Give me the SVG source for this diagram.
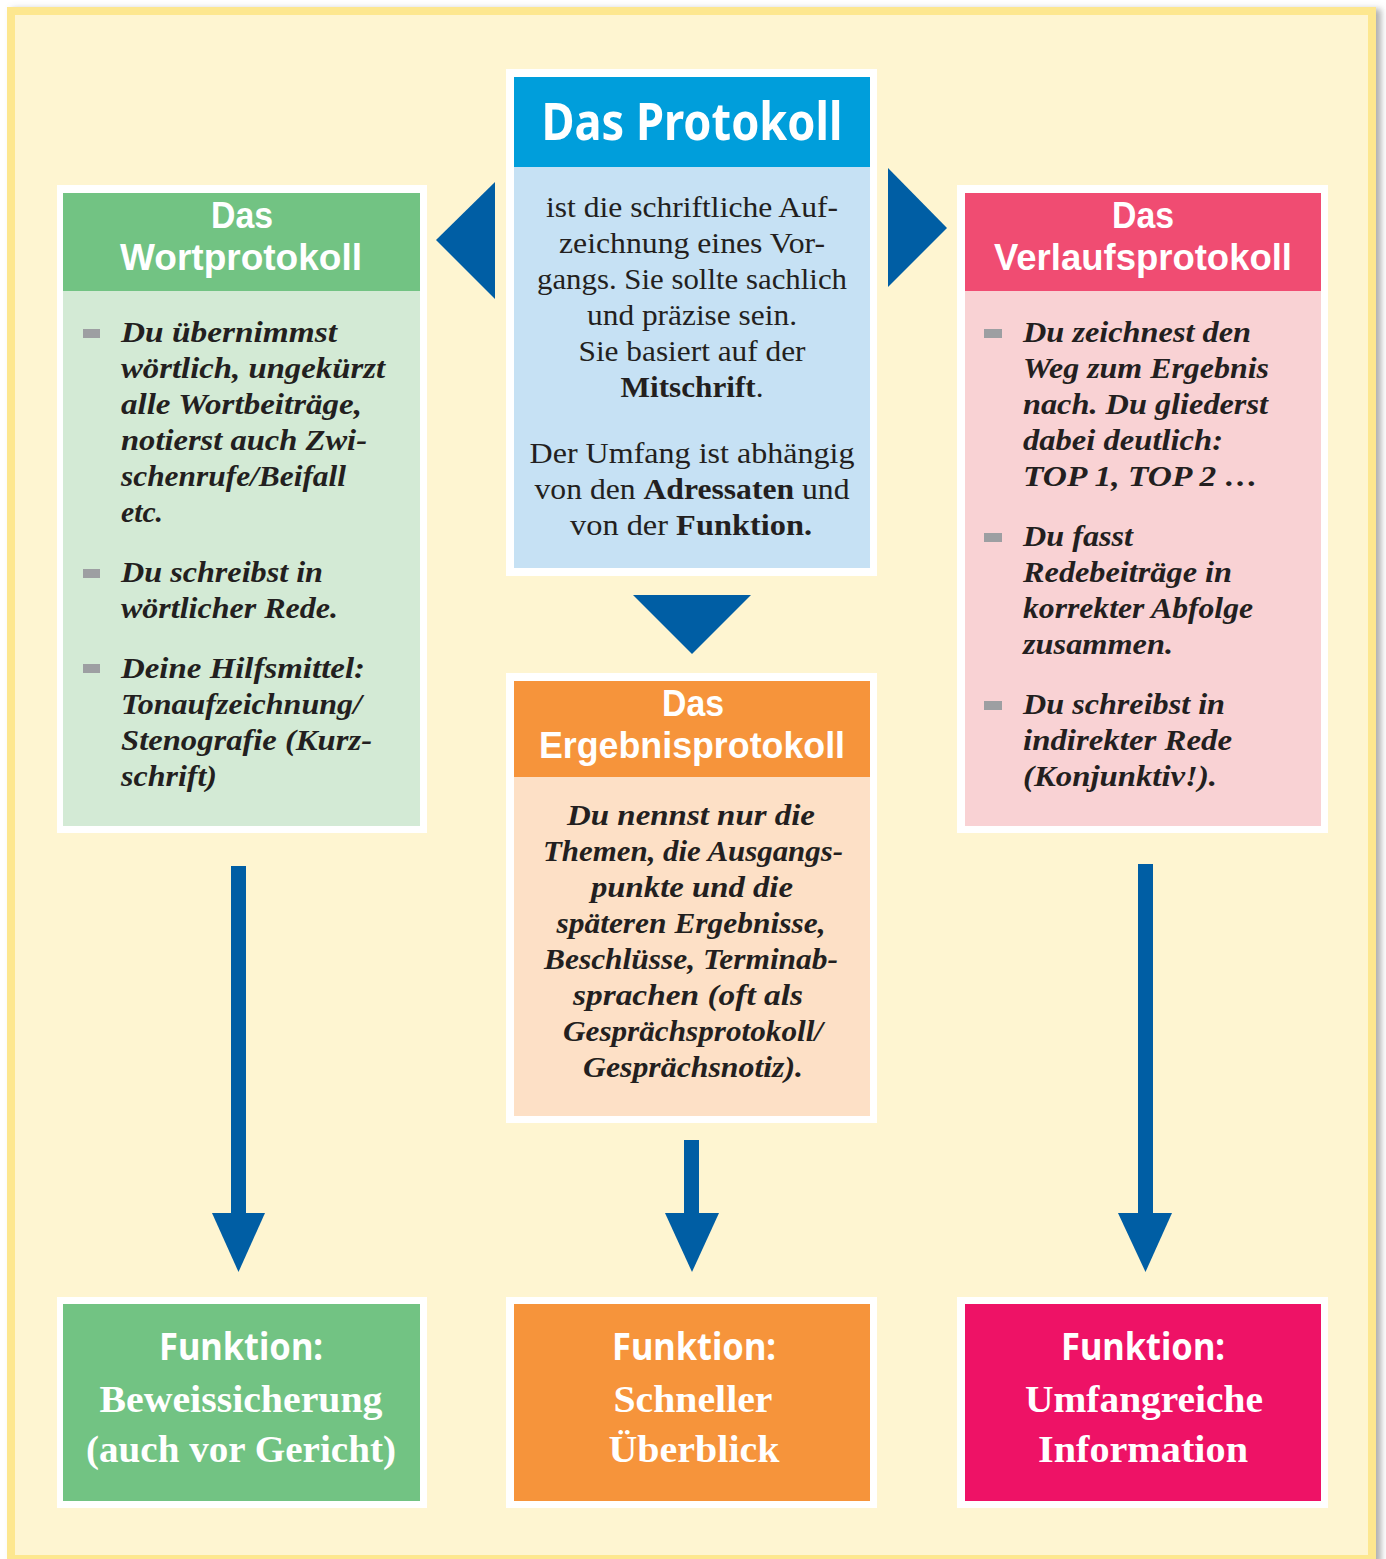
<svg xmlns="http://www.w3.org/2000/svg" width="1386" height="1559" viewBox="0 0 1386 1559">
<style>
.sans{font-family:"Noto Sans","Open Sans","DejaVu Sans",sans-serif;font-weight:700;fill:#ffffff;text-anchor:middle}
.hd{font-family:"Liberation Sans","Noto Sans",Arial,sans-serif;font-weight:700;font-size:37px;fill:#ffffff;text-anchor:middle}
.it{font-family:"Liberation Serif","Times New Roman",serif;font-style:italic;font-weight:700;font-size:30px;fill:#231F20}
.rg{font-family:"Liberation Serif","Times New Roman",serif;font-size:30px;fill:#231F20;text-anchor:middle}
.fn{font-family:"Liberation Serif","Times New Roman",serif;font-weight:700;font-size:38px;fill:#ffffff;text-anchor:middle}
.mid{text-anchor:middle}
.b{font-weight:700}
.white{fill:#ffffff}
.bul{fill:#9D9FA2}
.arrow{fill:#005EA4}
</style>
<defs>
<filter id="sh" x="-5%" y="-5%" width="110%" height="110%">
<feDropShadow dx="5" dy="2" stdDeviation="3" flood-color="#7a7a7a" flood-opacity="0.6"/>
</filter>
</defs>
<rect x="0" y="0" width="1386" height="1559" fill="#ffffff"/>
<g id="frame">
<rect x="11" y="11" width="1361" height="1548" fill="#FEF5D1" stroke="#FDE78F" stroke-width="8" filter="url(#sh)"/>
</g>
<g id="connectors">
<polygon class="arrow" points="436,240 495,182 495,299"/>
<polygon class="arrow" points="888,168 947,228 888,287"/>
<polygon class="arrow" points="633,595 751,595 692,654"/>
<rect class="arrow" x="231" y="866" width="15" height="350"/>
<polygon class="arrow" points="212,1213 265,1213 238.5,1272"/>
<rect class="arrow" x="684" y="1140" width="15" height="76"/>
<polygon class="arrow" points="665,1213 719,1213 692,1272"/>
<rect class="arrow" x="1138" y="864" width="15" height="352"/>
<polygon class="arrow" points="1118,1213 1172,1213 1145.5,1272"/>
</g>
<g id="protokoll">
<rect class="white" x="506" y="69" width="371" height="507"/>
<rect x="514" y="77" width="356" height="90" fill="#009EDB"/>
<rect x="514" y="167" width="356" height="401" fill="#C6E1F4"/>
<text class="sans" x="692" y="140" font-size="52" textLength="301" lengthAdjust="spacingAndGlyphs">Das Protokoll</text>
<text class="rg" x="692" y="217" textLength="292" lengthAdjust="spacingAndGlyphs">ist die schriftliche Auf-</text>
<text class="rg" x="692" y="253" textLength="266" lengthAdjust="spacingAndGlyphs">zeichnung eines Vor-</text>
<text class="rg" x="692" y="289" textLength="310" lengthAdjust="spacingAndGlyphs">gangs. Sie sollte sachlich</text>
<text class="rg" x="692" y="325" textLength="210" lengthAdjust="spacingAndGlyphs">und präzise sein.</text>
<text class="rg" x="692" y="361" textLength="227" lengthAdjust="spacingAndGlyphs">Sie basiert auf der</text>
<text class="rg" x="692" y="397" textLength="143" lengthAdjust="spacingAndGlyphs"><tspan class="b">Mitschrift</tspan>.</text>
<text class="rg" x="692" y="463" textLength="325" lengthAdjust="spacingAndGlyphs">Der Umfang ist abhängig</text>
<text class="rg" x="692" y="499" textLength="315" lengthAdjust="spacingAndGlyphs">von den <tspan class="b">Adressaten</tspan> und</text>
<text class="rg" x="691" y="535" textLength="242" lengthAdjust="spacingAndGlyphs">von der <tspan class="b">Funktion.</tspan></text>
</g>
<g id="wortprotokoll">
<rect class="white" x="57" y="185" width="370" height="648"/>
<rect x="63" y="193" width="357" height="98" fill="#72C383"/>
<rect x="63" y="291" width="357" height="535" fill="#D3EAD5"/>
<text class="hd" x="242" y="228" textLength="62" lengthAdjust="spacingAndGlyphs">Das</text>
<text class="hd" x="241" y="270" textLength="242" lengthAdjust="spacingAndGlyphs">Wortprotokoll</text>
<rect class="bul" x="83" y="329" width="17" height="9"/>
<rect class="bul" x="83" y="569" width="17" height="9"/>
<rect class="bul" x="83" y="664" width="17" height="9"/>
<text class="it" x="121" y="342" textLength="216" lengthAdjust="spacingAndGlyphs">Du übernimmst</text>
<text class="it" x="121" y="378" textLength="264" lengthAdjust="spacingAndGlyphs">wörtlich, ungekürzt</text>
<text class="it" x="121" y="414" textLength="241" lengthAdjust="spacingAndGlyphs">alle Wortbeiträge,</text>
<text class="it" x="121" y="450" textLength="246" lengthAdjust="spacingAndGlyphs">notierst auch Zwi-</text>
<text class="it" x="121" y="486" textLength="225" lengthAdjust="spacingAndGlyphs">schenrufe/Beifall</text>
<text class="it" x="121" y="522" textLength="42" lengthAdjust="spacingAndGlyphs">etc.</text>
<text class="it" x="121" y="582" textLength="202" lengthAdjust="spacingAndGlyphs">Du schreibst in</text>
<text class="it" x="121" y="618" textLength="217" lengthAdjust="spacingAndGlyphs">wörtlicher Rede.</text>
<text class="it" x="121" y="678" textLength="244" lengthAdjust="spacingAndGlyphs">Deine Hilfsmittel:</text>
<text class="it" x="121" y="714" textLength="241" lengthAdjust="spacingAndGlyphs">Tonaufzeichnung/</text>
<text class="it" x="121" y="750" textLength="251" lengthAdjust="spacingAndGlyphs">Stenografie (Kurz-</text>
<text class="it" x="121" y="786" textLength="96" lengthAdjust="spacingAndGlyphs">schrift)</text>
</g>
<g id="verlaufsprotokoll">
<rect class="white" x="957" y="185" width="371" height="648"/>
<rect x="965" y="193" width="356" height="98" fill="#F04C72"/>
<rect x="965" y="291" width="356" height="535" fill="#F9D2D4"/>
<text class="hd" x="1143" y="228" textLength="62" lengthAdjust="spacingAndGlyphs">Das</text>
<text class="hd" x="1143" y="270" textLength="298" lengthAdjust="spacingAndGlyphs">Verlaufsprotokoll</text>
<rect class="bul" x="984" y="329" width="18" height="9"/>
<rect class="bul" x="984" y="533" width="18" height="9"/>
<rect class="bul" x="984" y="701" width="18" height="9"/>
<text class="it" x="1023" y="342" textLength="228" lengthAdjust="spacingAndGlyphs">Du zeichnest den</text>
<text class="it" x="1023" y="378" textLength="246" lengthAdjust="spacingAndGlyphs">Weg zum Ergebnis</text>
<text class="it" x="1023" y="414" textLength="245" lengthAdjust="spacingAndGlyphs">nach. Du gliederst</text>
<text class="it" x="1023" y="450" textLength="200" lengthAdjust="spacingAndGlyphs">dabei deutlich:</text>
<text class="it" x="1023" y="486" textLength="235" lengthAdjust="spacingAndGlyphs">TOP 1, TOP 2 …</text>
<text class="it" x="1023" y="546" textLength="110" lengthAdjust="spacingAndGlyphs">Du fasst</text>
<text class="it" x="1023" y="582" textLength="209" lengthAdjust="spacingAndGlyphs">Redebeiträge in</text>
<text class="it" x="1023" y="618" textLength="230" lengthAdjust="spacingAndGlyphs">korrekter Abfolge</text>
<text class="it" x="1023" y="654" textLength="150" lengthAdjust="spacingAndGlyphs">zusammen.</text>
<text class="it" x="1023" y="714" textLength="202" lengthAdjust="spacingAndGlyphs">Du schreibst in</text>
<text class="it" x="1023" y="750" textLength="209" lengthAdjust="spacingAndGlyphs">indirekter Rede</text>
<text class="it" x="1023" y="786" textLength="194" lengthAdjust="spacingAndGlyphs">(Konjunktiv!).</text>
</g>
<g id="ergebnisprotokoll">
<rect class="white" x="506" y="673" width="371" height="450"/>
<rect x="514" y="681" width="356" height="96" fill="#F6943B"/>
<rect x="514" y="777" width="356" height="339" fill="#FDE0C6"/>
<text class="hd" x="693" y="716" textLength="62" lengthAdjust="spacingAndGlyphs">Das</text>
<text class="hd" x="692" y="758" textLength="306" lengthAdjust="spacingAndGlyphs">Ergebnisprotokoll</text>
<text class="it mid" x="691" y="825" textLength="248" lengthAdjust="spacingAndGlyphs">Du nennst nur die</text>
<text class="it mid" x="693" y="861" textLength="300" lengthAdjust="spacingAndGlyphs">Themen, die Ausgangs-</text>
<text class="it mid" x="692" y="897" textLength="202" lengthAdjust="spacingAndGlyphs">punkte und die</text>
<text class="it mid" x="691" y="933" textLength="269" lengthAdjust="spacingAndGlyphs">späteren Ergebnisse,</text>
<text class="it mid" x="691" y="969" textLength="294" lengthAdjust="spacingAndGlyphs">Beschlüsse, Terminab-</text>
<text class="it mid" x="688" y="1005" textLength="230" lengthAdjust="spacingAndGlyphs">sprachen (oft als</text>
<text class="it mid" x="693" y="1041" textLength="260" lengthAdjust="spacingAndGlyphs">Gesprächsprotokoll/</text>
<text class="it mid" x="693" y="1077" textLength="220" lengthAdjust="spacingAndGlyphs">Gesprächsnotiz).</text>
</g>
<g id="funktion-wort">
<rect class="white" x="57" y="1297" width="370" height="211"/>
<rect x="63" y="1304" width="357" height="197" fill="#72C383"/>
<text class="sans" x="241" y="1360" font-size="38" textLength="164" lengthAdjust="spacingAndGlyphs">Funktion:</text>
<text class="fn" x="241" y="1412" textLength="283" lengthAdjust="spacingAndGlyphs">Beweissicherung</text>
<text class="fn" x="241" y="1462" textLength="310" lengthAdjust="spacingAndGlyphs">(auch vor Gericht)</text>
</g>
<g id="funktion-ergebnis">
<rect class="white" x="506" y="1297" width="371" height="211"/>
<rect x="514" y="1304" width="356" height="197" fill="#F6943B"/>
<text class="sans" x="694" y="1360" font-size="38" textLength="164" lengthAdjust="spacingAndGlyphs">Funktion:</text>
<text class="fn" x="693" y="1412" textLength="159" lengthAdjust="spacingAndGlyphs">Schneller</text>
<text class="fn" x="694" y="1462" textLength="171" lengthAdjust="spacingAndGlyphs">Überblick</text>
</g>
<g id="funktion-verlauf">
<rect class="white" x="957" y="1297" width="371" height="211"/>
<rect x="965" y="1304" width="356" height="197" fill="#EE1266"/>
<text class="sans" x="1143" y="1360" font-size="38" textLength="164" lengthAdjust="spacingAndGlyphs">Funktion:</text>
<text class="fn" x="1144" y="1412" textLength="238" lengthAdjust="spacingAndGlyphs">Umfangreiche</text>
<text class="fn" x="1143" y="1462" textLength="210" lengthAdjust="spacingAndGlyphs">Information</text>
</g>
</svg>
